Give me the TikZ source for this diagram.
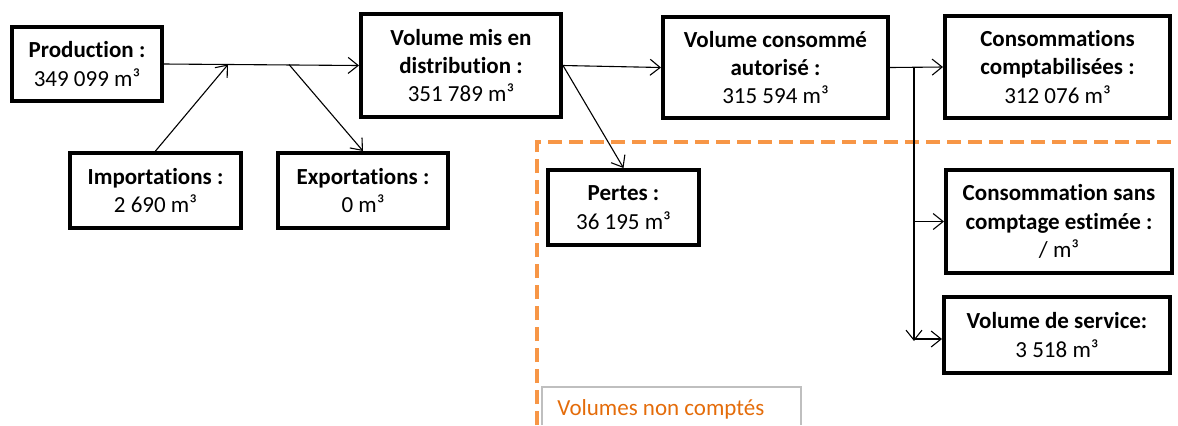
\documentclass[tikz,border=0pt]{standalone}
\usepackage{fontspec}
\setmainfont[Ligatures={NoCommon}]{Carlito}
\usetikzlibrary{arrows.meta}
\definecolor{orangeline}{HTML}{F79646}
\definecolor{orangetext}{HTML}{E46C0A}
\definecolor{greyline}{HTML}{BFBFBF}
\begin{document}
\begin{tikzpicture}[x=0.5pt, y=-0.5pt,
    % Styles
    box/.style={draw=black, line width=2pt, fill=white, align=center, inner sep=0pt, font=\fontsize{11.5}{14.2}\selectfont},
    arrow/.style={-{Straight Barb[length=5pt,width=8pt]}, line width=0.55pt},
    note/.style={text=orangetext, font=\fontsize{11.5}{14.2}\selectfont, inner sep=0pt},
]
\useasboundingbox (0,0) rectangle (1178,425);

% Non-counted volumes frame
\draw[orangeline, line width=2.2pt, dash pattern=on 7pt off 3.5pt] (537,425) -- (537,142) -- (1178,142);
\draw[greyline, line width=0.6pt] (542,425) -- (542,387) -- (801,387) -- (801,425);
\node[note, anchor=base west] (noncomptes) at (557,415) {Volumes non comptés};

% Inputs
\node[box, minimum width=75pt, minimum height=37pt] (prod) at (87,64) {\textbf{Production :}\\349 099 m³};
\node[box, minimum width=85.5pt, minimum height=37.5pt] (imp) at (155.5,190.5) {\textbf{Importations :}\\2 690 m³};
\node[box, minimum width=85pt, minimum height=37.5pt] (exp) at (363,190.5) {\textbf{Exportations :}\\0 m³};

% Distribution
\node[box, minimum width=100pt, minimum height=51.5pt] (dist) at (461,65.5) {\textbf{Volume mis en}\\\textbf{distribution :}\\351 789 m³};
\node[box, minimum width=75.5pt, minimum height=37.5pt] (pertes) at (623.5,207.5) {\textbf{Pertes :}\\36 195 m³};

% Authorised consumption
\node[box, minimum width=112.5pt, minimum height=50.5pt] (auto) at (775.5,67.5) {\textbf{Volume consommé}\\\textbf{autorisé :}\\315 594 m³};
\node[box, minimum width=112.5pt, minimum height=51pt] (compta) at (1057.5,67) {\textbf{Consommations}\\\textbf{comptabilisées :}\\312 076 m³};
\node[box, minimum width=113pt, minimum height=51.5pt] (sans) at (1059,221.5) {\textbf{Consommation sans}\\\textbf{comptage estimée :}\\/ m³};
\node[box, minimum width=113pt, minimum height=38pt] (service) at (1057,335) {\textbf{Volume de service:}\\3 518 m³};

% Connectors
\coordinate (impin) at (228,64.5);
\coordinate (expout) at (289,64.5);
\draw[arrow] (prod.east) -- (dist.west);
\draw[arrow] (imp.north) -- (impin);
\draw[arrow] (expout) -- (exp.north);
\draw[arrow] (dist.east) -- (auto.west);
\draw[arrow] (dist.east) -- (pertes.north);
\draw[arrow] (auto.east) -- (compta.west);

\coordinate (split) at (914,67.5);
\coordinate (splitend) at (914,341);
\coordinate (servin) at (914,339);
\draw[arrow] (split) -- (splitend);
\draw[arrow] (split |- sans.west) -- (sans.west);
\draw[arrow] (servin) -- (servin -| service.west);

\end{tikzpicture}
\end{document}
